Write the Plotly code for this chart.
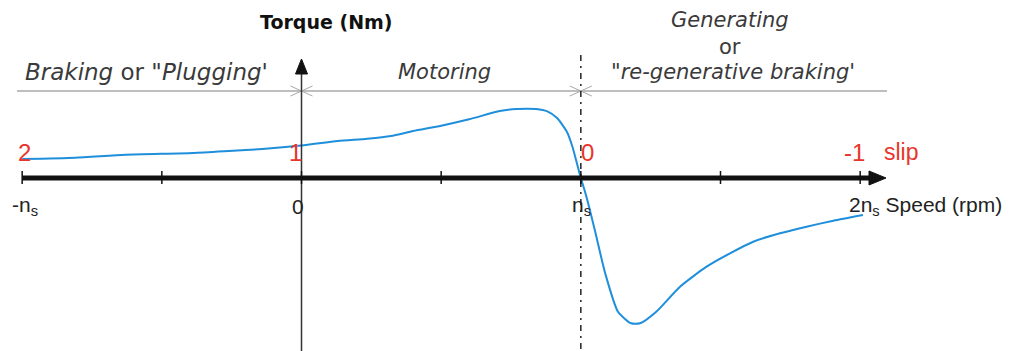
import plotly.graph_objects as go

# ---- data (speed in units of n_s, torque in arbitrary units) ----
speed = [-1.0, -0.81, -0.63, -0.39, -0.26, -0.14, 0.0, 0.13, 0.235, 0.32, 0.40, 0.50,
         0.60, 0.71, 0.77, 0.84, 0.88, 0.915, 0.95, 0.97, 0.995, 1.0, 1.02, 1.05,
         1.087, 1.133, 1.18, 1.212, 1.27, 1.355, 1.45, 1.534, 1.617, 1.713, 1.808,
         1.904, 2.01]
torque = [1.9, 2.03, 2.33, 2.5, 2.7, 2.9, 3.25, 3.7, 3.93, 4.2, 4.7, 5.23,
          5.87, 6.7, 6.9, 6.9, 6.67, 6.0, 4.63, 3.13, 0.5, 0.0, -1.87, -5.2,
          -9.5, -13.37, -14.53, -14.53, -13.37, -10.87, -8.87, -7.53, -6.37, -5.53, -4.87,
          -4.27, -3.7]

tick_positions = [-1.0, -0.5, 0.0, 0.5, 1.0, 1.5, 2.0]
speed_labels = ["-n<sub>s</sub>", "0", "n<sub>s</sub>", "2n<sub>s</sub> Speed (rpm)"]
speed_label_pos = [-1.0, 0.0, 1.0, 2.0]
slip_values = [2, 1, 0, -1]
slip_labels = ["2", "1", "0", "-1"]
region_labels = ["<i>Braking</i> or \"<i>Plugging</i>'", "<i>Motoring</i>",
                 "<i>Generating</i>", "or", "\"<i>re-generative braking</i>'"]

# ---- pixel helpers (1 n_s = 279.33 px, torque unit = 10 px; page has 8px body margin) ----
PX = 1 / 279.33
PY = 0.1
OFF = 8
X0, X1 = (OFF - 301.5) * PX, (OFF + 1013 - 301.5) * PX
Y0, Y1 = (178 - OFF - 351) * PY, (178 - OFF) * PY


def sx(px):
    return (px - 301.5) * PX


def sy(py):
    return (178 - py) * PY


FONT = "Liberation Sans"
WIDE = "DejaVu Sans"
RED = "#e8352c"
GRAY = "#a8a8a8"

fig = go.Figure()
fig.add_trace(go.Scatter(x=speed, y=torque, mode="lines",
                         line=dict(color="#1f8fdc", width=2, shape="spline", smoothing=0.6),
                         hoverinfo="skip", showlegend=False))

shapes = []
gy = sy(91)
shapes.append(dict(type="line", x0=sx(17), x1=sx(887), y0=gy, y1=gy,
                   line=dict(color=GRAY, width=1.5)))
for xc in [0.0, 1.0]:
    for s in (-1, 1):
        path = "M %f %f L %f %f L %f %f" % (xc + s * 11 * PX, gy + 5 * PY, xc, gy,
                                            xc + s * 11 * PX, gy - 5 * PY)
        shapes.append(dict(type="path", path=path, line=dict(color=GRAY, width=1)))
shapes.append(dict(type="line", x0=1.0, x1=1.0, y0=sy(55), y1=Y0,
                   line=dict(color="#222", width=1.5, dash="6px,5px,2px,5px")))
shapes.append(dict(type="line", x0=0, x1=0, y0=Y0, y1=sy(72),
                   line=dict(color="#333", width=1.5)))
shapes.append(dict(type="path",
                   path="M %f %f L %f %f L %f %f Z" % (-6 * PX, sy(74), 0, sy(59), 6 * PX, sy(74)),
                   fillcolor="#111", line=dict(color="#111", width=1)))
shapes.append(dict(type="line", x0=-1.0, x1=sx(872), y0=0, y1=0,
                   line=dict(color="#111", width=5)))
shapes.append(dict(type="path",
                   path="M %f %f L %f %f L %f %f Z" % (sx(869), 7 * PY, sx(886), 0, sx(869), -7 * PY),
                   fillcolor="#111", line=dict(color="#111", width=1)))
for t in tick_positions:
    shapes.append(dict(type="line", x0=t, x1=t, y0=-6 * PY, y1=7 * PY,
                       line=dict(color="#111", width=1.5)))

annotations = []
annotations.append(dict(x=sx(326), y=sy(22), text="<b>Torque (Nm)</b>",
                        showarrow=False, font=dict(family=WIDE, size=19, color="#111")))
reg_pos = [(146, 72), (444, 72), (730, 20), (730, 47), (733, 72)]
reg_size = [23, 21, 21, 21, 21]
for (px, py), txt, fs in zip(reg_pos, region_labels, reg_size):
    annotations.append(dict(x=sx(px), y=sy(py), text=txt, showarrow=False,
                            font=dict(family=WIDE, size=fs, color="#3a3a3a")))
slip_shift = [2, -6, 7, -6]
for sv, lab, sh in zip(slip_values, slip_labels, slip_shift):
    annotations.append(dict(x=1 - sv, y=sy(152), text=lab, showarrow=False,
                            xshift=sh, font=dict(family=FONT, size=24, color=RED)))
annotations.append(dict(x=sx(901), y=sy(152), text="slip", showarrow=False,
                        font=dict(family=FONT, size=23, color=RED)))
lab_shift = [3, -4, 1, -13]
for xp, lab, sh in zip(speed_label_pos, speed_labels, lab_shift):
    anchor = "left" if xp == 2.0 else "center"
    annotations.append(dict(x=xp, y=sy(206), text=lab, showarrow=False, xanchor=anchor,
                            xshift=sh, font=dict(family=FONT, size=21, color="#222")))

fig.update_layout(width=1013, height=351, margin=dict(l=0, r=0, t=0, b=0),
                  paper_bgcolor="white", plot_bgcolor="white",
                  xaxis=dict(range=[X0, X1], visible=False, fixedrange=True),
                  yaxis=dict(range=[Y0, Y1], visible=False, fixedrange=True),
                  shapes=shapes, annotations=annotations)
fig.write_html("out.html")
